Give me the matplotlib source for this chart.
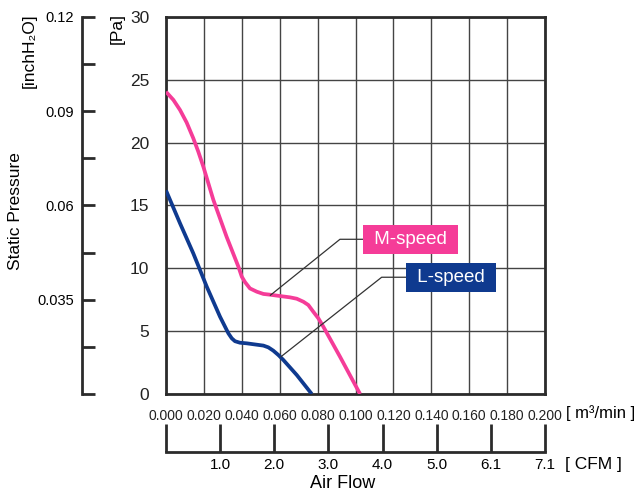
import matplotlib.pyplot as plt

plt.rcParams["font.family"] = ["Liberation Sans", "DejaVu Sans"]

# Air flow [m3/min] and static pressure [Pa]
m_flow = [0.000, 0.0007, 0.0039, 0.0074, 0.0109, 0.0144, 0.017, 0.0197, 0.025,
          0.032, 0.0382, 0.040, 0.0417, 0.0443, 0.0479, 0.0514, 0.0549, 0.0654,
          0.069, 0.0725, 0.0751, 0.0777, 0.0804, 0.083, 0.0918, 0.1024]
m_pressure = [24.05, 23.93, 23.4, 22.6, 21.6, 20.35, 19.3, 18.09, 15.44,
              12.5, 10.13, 9.33, 8.9, 8.4, 8.14, 7.96, 7.9, 7.69,
              7.58, 7.34, 7.08, 6.55, 6.02, 5.36, 2.97, 0.0]

l_flow = [0.000, 0.0074, 0.0144, 0.0215, 0.0285, 0.0329, 0.0347, 0.0364, 0.039,
          0.0426, 0.0514, 0.054, 0.0566, 0.0593, 0.0619, 0.069, 0.0769]
l_pressure = [16.2, 13.58, 11.19, 8.54, 6.15, 4.83, 4.43, 4.2, 4.08,
              4.03, 3.85, 3.71, 3.45, 3.1, 2.71, 1.51, 0.0]

x_ticks = [0.000, 0.020, 0.040, 0.060, 0.080, 0.100, 0.120, 0.140, 0.160, 0.180, 0.200]
y_ticks = [0, 5, 10, 15, 20, 25, 30]
inch_ticks = [0.0, 0.015, 0.03, 0.045, 0.06, 0.075, 0.09, 0.105, 0.12]
inch_labels = ["", "", "0.035", "", "0.06", "", "0.09", "", "0.12"]
cfm_ticks = [0, 1, 2, 3, 4, 5, 6, 7]
cfm_labels = ["", "1.0", "2.0", "3.0", "4.0", "5.0", "6.1", "7.1"]

pink = "#f53c98"
navy = "#0f3a8f"
dark = "#2b2b2b"

fig = plt.figure(figsize=(6.37, 4.91), dpi=100)

# Main chart
ax = fig.add_axes([0.2606, 0.1976, 0.595, 0.7678])
ax.set_xlim(0, 0.2)
ax.set_ylim(0, 30)
ax.set_xticks(x_ticks)
ax.set_yticks(y_ticks)
ax.set_xticklabels([f"{v:.3f}" for v in x_ticks], fontsize=10)
ax.set_yticklabels([str(v) for v in y_ticks], fontsize=12.5)
ax.tick_params(length=0, colors="#222222")
ax.tick_params(axis="x", pad=11)
ax.tick_params(axis="y", pad=12)
ax.grid(True, color="#444444", linewidth=1.0)
for s in ax.spines.values():
    s.set_color(dark)
    s.set_linewidth(2)

ax.plot(m_flow, m_pressure, color=pink, linewidth=2.7, solid_capstyle="butt",
        solid_joinstyle="round", zorder=3)
ax.plot(l_flow, l_pressure, color=navy, linewidth=2.7, solid_capstyle="butt",
        solid_joinstyle="round", zorder=3)

# Leader lines and labels
ax.plot([0.0551, 0.0918, 0.1041], [7.86, 12.31, 12.31], color="#333333", linewidth=0.9, zorder=4)
ax.plot([0.0607, 0.1138, 0.1267], [2.97, 9.29, 9.29], color="#333333", linewidth=0.9, zorder=4)
ax.text(0.1072, 12.31, " M-speed ", color="white", fontsize=13.5, va="center", ha="left",
        bbox=dict(boxstyle="square,pad=0.32", fc=pink, ec="none"), zorder=5)
ax.text(0.1298, 9.29, " L-speed ", color="white", fontsize=13.5, va="center", ha="left",
        bbox=dict(boxstyle="square,pad=0.32", fc=navy, ec="none"), zorder=5)

# inchH2O axis on the far left
ax2 = fig.add_axes([0.1287, 0.1976, 0.01, 0.7678])
ax2.set_ylim(0, 0.12)
ax2.set_yticks(inch_ticks)
ax2.set_yticklabels(inch_labels, fontsize=10.5)
ax2.set_xticks([])
for k in ["top", "right", "bottom"]:
    ax2.spines[k].set_visible(False)
ax2.spines["left"].set_linewidth(2)
ax2.spines["left"].set_color(dark)
ax2.tick_params(axis="y", direction="in", length=9, width=2, color=dark, pad=6)
ax2.patch.set_alpha(0)

# CFM axis at the bottom
ax3 = fig.add_axes([0.2606, 0.0794, 0.595, 0.01])
ax3.set_xlim(0, 7)
ax3.set_xticks(cfm_ticks)
ax3.set_xticklabels(cfm_labels, fontsize=11)
ax3.set_yticks([])
for k in ["top", "right", "left"]:
    ax3.spines[k].set_visible(False)
ax3.spines["bottom"].set_linewidth(2)
ax3.spines["bottom"].set_color(dark)
ax3.tick_params(axis="x", direction="in", length=20, width=2, color=dark, pad=4)
ax3.patch.set_alpha(0)

# Units and titles
fig.text(566 / 637, 1 - 413 / 491, "[ m\u00b3/min ]", fontsize=12, va="center", ha="left")
fig.text(565 / 637, 1 - 464 / 491, "[ CFM ]", fontsize=12.5, va="center", ha="left")
fig.text(343 / 637, 1 - 484 / 491, "Air Flow", fontsize=13, va="center", ha="center")
fig.text(117 / 637, 1 - 29 / 491, "[Pa]", fontsize=12.5, rotation=90, va="center", ha="center")
fig.text(29 / 637, 1 - 51 / 491, "[inchH\u2082O]", fontsize=12.5, rotation=90, va="center", ha="center")
fig.text(15 / 637, 1 - 211 / 491, "Static Pressure", fontsize=12.5, rotation=90, va="center", ha="center")

fig.savefig("out.png", dpi=100)
